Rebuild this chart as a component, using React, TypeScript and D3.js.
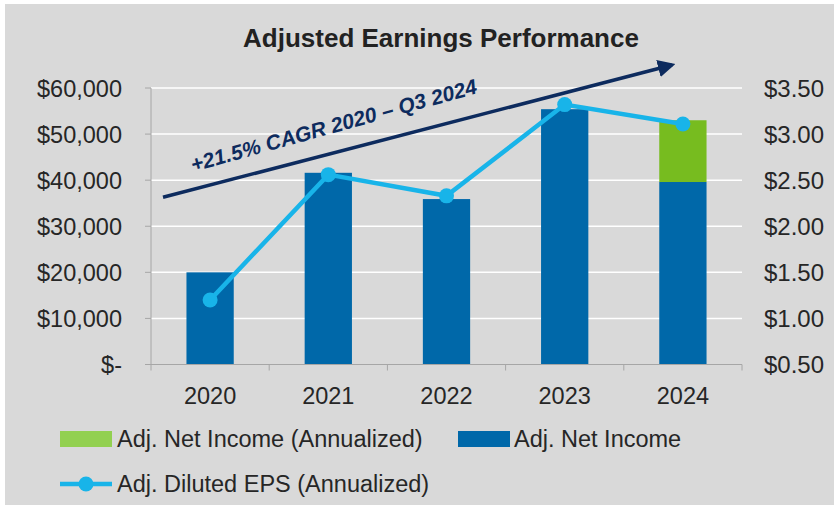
import {useEffect, useRef} from "react";
import * as d3 from "d3";

const years = ["2020", "2021", "2022", "2023", "2024"];
const netIncome = [20000, 41600, 35900, 55400, 39600];
const netIncomeAnnualized = [0, 0, 0, 0, 13400];
const dilutedEps = [1.20, 2.56, 2.33, 3.32, 3.11];
const leftTicks = [0, 10000, 20000, 30000, 40000, 50000, 60000];
const rightTicks = [0.5, 1.0, 1.5, 2.0, 2.5, 3.0, 3.5];

const FONT = "'Liberation Sans', Arial, sans-serif";

function App() {
    const ref = useRef<SVGSVGElement>(null);

    useEffect(() => {
        const W = 834, H = 505;
        const left = 151, right = 742, top = 88, bottom = 364.5;

        const svg = d3.select(ref.current);
        svg.selectAll("*").remove();

        // white frame + gray panel
        svg.append("rect").attr("width", W).attr("height", H).attr("fill", "#ffffff");
        svg.append("rect").attr("x", 5).attr("y", 4).attr("width", W - 5).attr("height", H - 4).attr("fill", "#d9d9d9");

        const x = d3.scaleBand().domain(years).range([left, right]).paddingInner(0.6).paddingOuter(0.3);
        const y = d3.scaleLinear().domain([0, 60000]).range([bottom, top]);
        const y2 = d3.scaleLinear().domain([0.5, 3.5]).range([bottom, top]);

        // title
        svg.append("text")
            .attr("x", 441).attr("y", 47)
            .attr("text-anchor", "middle")
            .attr("font-family", FONT).attr("font-weight", "bold").attr("font-size", 26)
            .attr("fill", "#222")
            .text("Adjusted Earnings Performance");

        // gridlines
        svg.append("g").selectAll("line").data(leftTicks.filter(d => d > 0)).enter().append("line")
            .attr("x1", left).attr("x2", right)
            .attr("y1", d => y(d)).attr("y2", d => y(d))
            .attr("stroke", "#ffffff").attr("stroke-width", 1.5);

        // left axis
        const gl = svg.append("g");
        gl.append("line").attr("x1", left).attr("x2", left).attr("y1", top).attr("y2", bottom)
            .attr("stroke", "#a6a6a6").attr("stroke-width", 1);
        gl.selectAll("line.tk").data(leftTicks).enter().append("line")
            .attr("class", "tk")
            .attr("x1", left - 6).attr("x2", left)
            .attr("y1", d => y(d)).attr("y2", d => y(d))
            .attr("stroke", "#a6a6a6");
        gl.selectAll("text").data(leftTicks).enter().append("text")
            .attr("x", 122).attr("y", d => y(d) + 8.5)
            .attr("text-anchor", "end")
            .attr("font-family", FONT).attr("font-size", 23.5).attr("fill", "#262626")
            .text(d => d === 0 ? "$-" : "$" + d3.format(",")(d));

        // right axis labels
        svg.append("g").selectAll("text").data(rightTicks).enter().append("text")
            .attr("x", 764).attr("y", d => y2(d) + 8.5)
            .attr("font-family", FONT).attr("font-size", 24).attr("fill", "#262626")
            .text(d => "$" + d3.format(".2f")(d));

        // bars
        svg.append("g").selectAll("rect").data(years).enter().append("rect")
            .attr("x", d => x(d))
            .attr("width", x.bandwidth())
            .attr("y", (d, i) => y(netIncome[i]))
            .attr("height", (d, i) => y(0) - y(netIncome[i]))
            .attr("fill", "#0068a9");
        svg.append("g").selectAll("rect").data(years).enter().append("rect")
            .attr("x", d => x(d))
            .attr("width", x.bandwidth())
            .attr("y", (d, i) => y(netIncome[i] + netIncomeAnnualized[i]))
            .attr("height", (d, i) => y(netIncome[i]) - y(netIncome[i] + netIncomeAnnualized[i]))
            .attr("fill", "#77bc1f");

        // bottom axis
        const step = x.step();
        const bounds = years.map(d => x(d) - step * 0.3).concat([right]);
        const gb = svg.append("g");
        gb.append("line").attr("x1", left).attr("x2", right).attr("y1", bottom).attr("y2", bottom)
            .attr("stroke", "#a6a6a6");
        gb.selectAll("line.tk").data(bounds).enter().append("line")
            .attr("class", "tk")
            .attr("x1", d => d).attr("x2", d => d)
            .attr("y1", bottom).attr("y2", bottom + 6)
            .attr("stroke", "#a6a6a6");
        gb.selectAll("text").data(years).enter().append("text")
            .attr("x", d => x(d) + x.bandwidth() / 2)
            .attr("y", 404)
            .attr("text-anchor", "middle")
            .attr("font-family", FONT).attr("font-size", 23.5).attr("fill", "#262626")
            .text(d => d);

        // CAGR arrow
        const defs = svg.append("defs");
        defs.append("marker")
            .attr("id", "arrowhead")
            .attr("viewBox", "0 0 10 10")
            .attr("refX", 8).attr("refY", 5)
            .attr("markerWidth", 5).attr("markerHeight", 5)
            .attr("orient", "auto")
            .append("path").attr("d", "M0,0 L10,5 L0,10 Z").attr("fill", "#0d2b5e");
        svg.append("line")
            .attr("x1", left + 12).attr("y1", y(36300))
            .attr("x2", 672).attr("y2", y(65000))
            .attr("stroke", "#0d2b5e").attr("stroke-width", 3.5)
            .attr("marker-end", "url(#arrowhead)");
        svg.append("text")
            .attr("transform", "translate(193,172) rotate(-15.5)")
            .attr("font-family", FONT).attr("font-weight", "bold").attr("font-style", "italic")
            .attr("font-size", 21).attr("fill", "#0d2b5e")
            .text("+21.5% CAGR 2020 \u2013 Q3 2024");

        // EPS line
        const line = d3.line<number>()
            .x((d, i) => x(years[i]) + x.bandwidth() / 2)
            .y(d => y2(d));
        svg.append("path").datum(dilutedEps)
            .attr("d", line)
            .attr("fill", "none").attr("stroke", "#18b4e9").attr("stroke-width", 4.5);
        svg.append("g").selectAll("circle").data(dilutedEps).enter().append("circle")
            .attr("cx", (d, i) => x(years[i]) + x.bandwidth() / 2)
            .attr("cy", d => y2(d))
            .attr("r", 7.5)
            .attr("fill", "#18b4e9");

        // legend
        const lg = svg.append("g").attr("font-family", FONT).attr("font-size", 23.5).attr("fill", "#262626");
        lg.append("rect").attr("x", 60).attr("y", 431).attr("width", 52).attr("height", 16).attr("fill", "#92d050");
        lg.append("text").attr("x", 117).attr("y", 447).text("Adj. Net Income (Annualized)");
        lg.append("rect").attr("x", 458).attr("y", 431).attr("width", 52).attr("height", 16).attr("fill", "#0068a9");
        lg.append("text").attr("x", 514).attr("y", 447).text("Adj. Net Income");
        lg.append("line").attr("x1", 60).attr("x2", 112).attr("y1", 484).attr("y2", 484)
            .attr("stroke", "#18b4e9").attr("stroke-width", 4.5);
        lg.append("circle").attr("cx", 86).attr("cy", 484).attr("r", 7.5).attr("fill", "#18b4e9");
        lg.append("text").attr("x", 117).attr("y", 492).text("Adj. Diluted EPS (Annualized)");
    }, []);

    return <svg ref={ref} width={834} height={505}
                style={{position: "absolute", left: 0, top: 0, display: "block"}}/>;
}

export default App;
